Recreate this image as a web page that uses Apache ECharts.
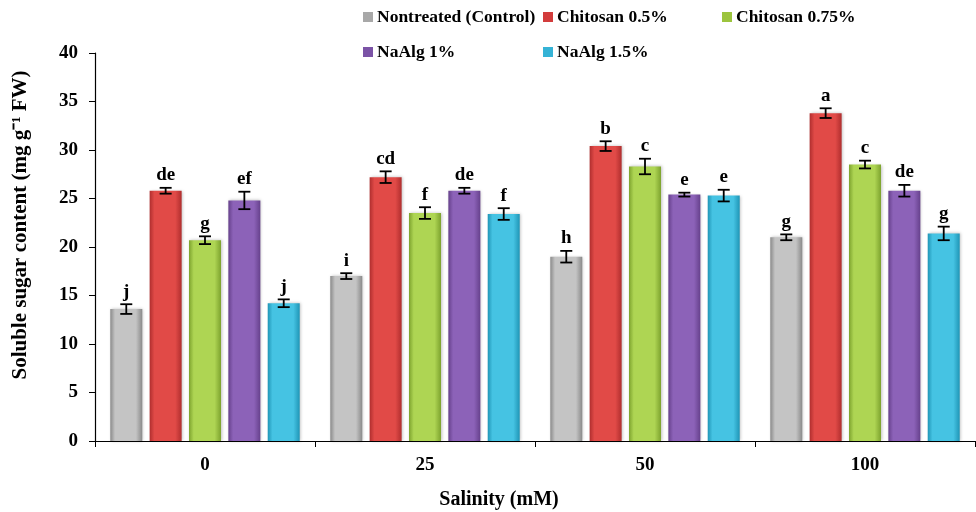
<!DOCTYPE html>
<html><head><meta charset="utf-8">
<script src="https://cdn.jsdelivr.net/npm/echarts@6/dist/echarts.min.js"></script>
<style>html,body{margin:0;padding:0;background:#fff}#c{width:976px;height:512px}</style>
</head><body><div id="c"></div>
<script>
var categories = ['0', '25', '50', '100'];
var seriesNames = ['Nontreated (Control)', 'Chitosan 0.5%', 'Chitosan 0.75%', 'NaAlg 1%', 'NaAlg 1.5%'];
var control   = [13.6, 17.0, 19.0, 21.0];
var chit05    = [25.8, 27.2, 30.4, 33.8];
var chit075   = [20.7, 23.5, 28.3, 28.5];
var naalg1    = [24.8, 25.8, 25.4, 25.8];
var naalg15   = [14.2, 23.4, 25.3, 21.4];
var errControl = [0.5, 0.3, 0.6, 0.3];
var errChit05  = [0.3, 0.6, 0.5, 0.5];
var errChit075 = [0.4, 0.6, 0.8, 0.4];
var errNaalg1  = [0.9, 0.3, 0.2, 0.6];
var errNaalg15 = [0.4, 0.6, 0.6, 0.7];
var lettersControl = ['j', 'i', 'h', 'g'];
var lettersChit05  = ['de', 'cd', 'b', 'a'];
var lettersChit075 = ['g', 'f', 'c', 'c'];
var lettersNaalg1  = ['ef', 'de', 'e', 'de'];
var lettersNaalg15 = ['j', 'f', 'e', 'g'];
var yTicks = [0, 5, 10, 15, 20, 25, 30, 35, 40];

var values = [control, chit05, chit075, naalg1, naalg15];
var errs = [errControl, errChit05, errChit075, errNaalg1, errNaalg15];
var letters = [lettersControl, lettersChit05, lettersChit075, lettersNaalg1, lettersNaalg15];
var colors = [
  ['#8a8a8a', '#c4c4c4'],
  ['#b02e2e', '#e14a47'],
  ['#7da32e', '#aed553'],
  ['#66418c', '#8c62b8'],
  ['#1f95b6', '#45c3e3']
];
var legendColors = ['#a8a8a8', '#d23c3c', '#9cc43e', '#7b53a6', '#35b3d6'];

var FONT = '"Liberation Serif", "Times New Roman", serif';
var BW = 32, GAP = 0.23;

function grad(c) {
  return new echarts.graphic.LinearGradient(0, 0, 1, 0, [
    {offset: 0, color: c[0]}, {offset: 0.15, color: c[1]},
    {offset: 0.8, color: c[1]}, {offset: 1, color: c[0]}
  ]);
}

var series = [];
values.forEach(function (v, s) {
  series.push({
    name: seriesNames[s], type: 'bar', data: v, barWidth: BW, barGap: (GAP * 100) + '%',
    itemStyle: {color: grad(colors[s]), shadowColor: 'rgba(0,0,0,0.25)', shadowBlur: 3, shadowOffsetX: 1},
    emphasis: {disabled: true}
  });
});
values.forEach(function (v, s) {
  var data = v.map(function (val, i) { return [i, val, errs[s][i], letters[s][i]]; });
  series.push({
    type: 'custom', silent: true, z: 10,
    data: data,
    renderItem: function (params, api) {
      var i = api.value(0), val = api.value(1), e = api.value(2);
      var off = (s - 2) * BW * (1 + GAP);
      var pTop = api.coord([i, val + e]);
      var pBot = api.coord([i, val - e]);
      var x = pTop[0] + off;
      var cap = 6;
      var style = {stroke: '#000', lineWidth: 1.8};
      return {
        type: 'group', children: [
          {type: 'line', shape: {x1: x, y1: pTop[1], x2: x, y2: pBot[1]}, style: style},
          {type: 'line', shape: {x1: x - cap, y1: pTop[1], x2: x + cap, y2: pTop[1]}, style: style},
          {type: 'line', shape: {x1: x - cap, y1: pBot[1], x2: x + cap, y2: pBot[1]}, style: style},
          {type: 'text', style: {text: letters[s][i], x: x, y: pTop[1] - 3, align: 'center', verticalAlign: 'bottom',
            font: 'bold 19px ' + FONT, fill: '#000'}}
        ]
      };
    }
  });
});

var legendPos = [[363, 8], [543, 8], [722, 8], [363, 43], [543, 43]];
var legends = seriesNames.map(function (n, s) {
  return {
    data: [{name: n, itemStyle: {color: legendColors[s]}}], left: legendPos[s][0], top: legendPos[s][1],
    padding: 0, icon: 'rect', itemWidth: 10, itemHeight: 10, itemGap: 4, selectedMode: false,
    textStyle: {fontFamily: FONT, fontWeight: 'bold', fontSize: 17.5, color: '#000', padding: [0, 0, 0, -1]}
  };
});

var chart = echarts.init(document.getElementById('c'));
chart.setOption({
  animation: false,
  legend: legends,
  grid: {left: 95, right: 1, top: 53, bottom: 71, containLabel: false},
  xAxis: {
    type: 'category', data: categories,
    axisLine: {lineStyle: {color: '#000', width: 1.2}},
    axisTick: {show: true, inside: false, length: 6, lineStyle: {color: '#000'}},
    axisLabel: {fontFamily: FONT, fontWeight: 'bold', fontSize: 19, color: '#000', margin: 15}
  },
  yAxis: {
    type: 'value', min: yTicks[0], max: yTicks[yTicks.length - 1], interval: 5,
    axisLine: {show: true, lineStyle: {color: '#000', width: 1.2}},
    axisTick: {show: true, length: 6, lineStyle: {color: '#000'}},
    splitLine: {show: false},
    axisLabel: {fontFamily: FONT, fontWeight: 'bold', fontSize: 19, color: '#000', margin: 17}
  },
  graphic: [
    {type: 'text', x: 499, y: 500, style: {text: 'Salinity (mM)', x: 0, y: 0, align: 'center', verticalAlign: 'middle',
      font: 'bold 20px ' + FONT, fill: '#000'}},
    {type: 'text', rotation: Math.PI / 2, x: 21, y: 225, style: {text: 'Soluble sugar content (mg g\u207B\u00B9 FW)', x: 0, y: 0,
      align: 'center', verticalAlign: 'middle', font: 'bold 21px ' + FONT, fill: '#000'}}
  ],
  series: series
});
</script></body></html>
